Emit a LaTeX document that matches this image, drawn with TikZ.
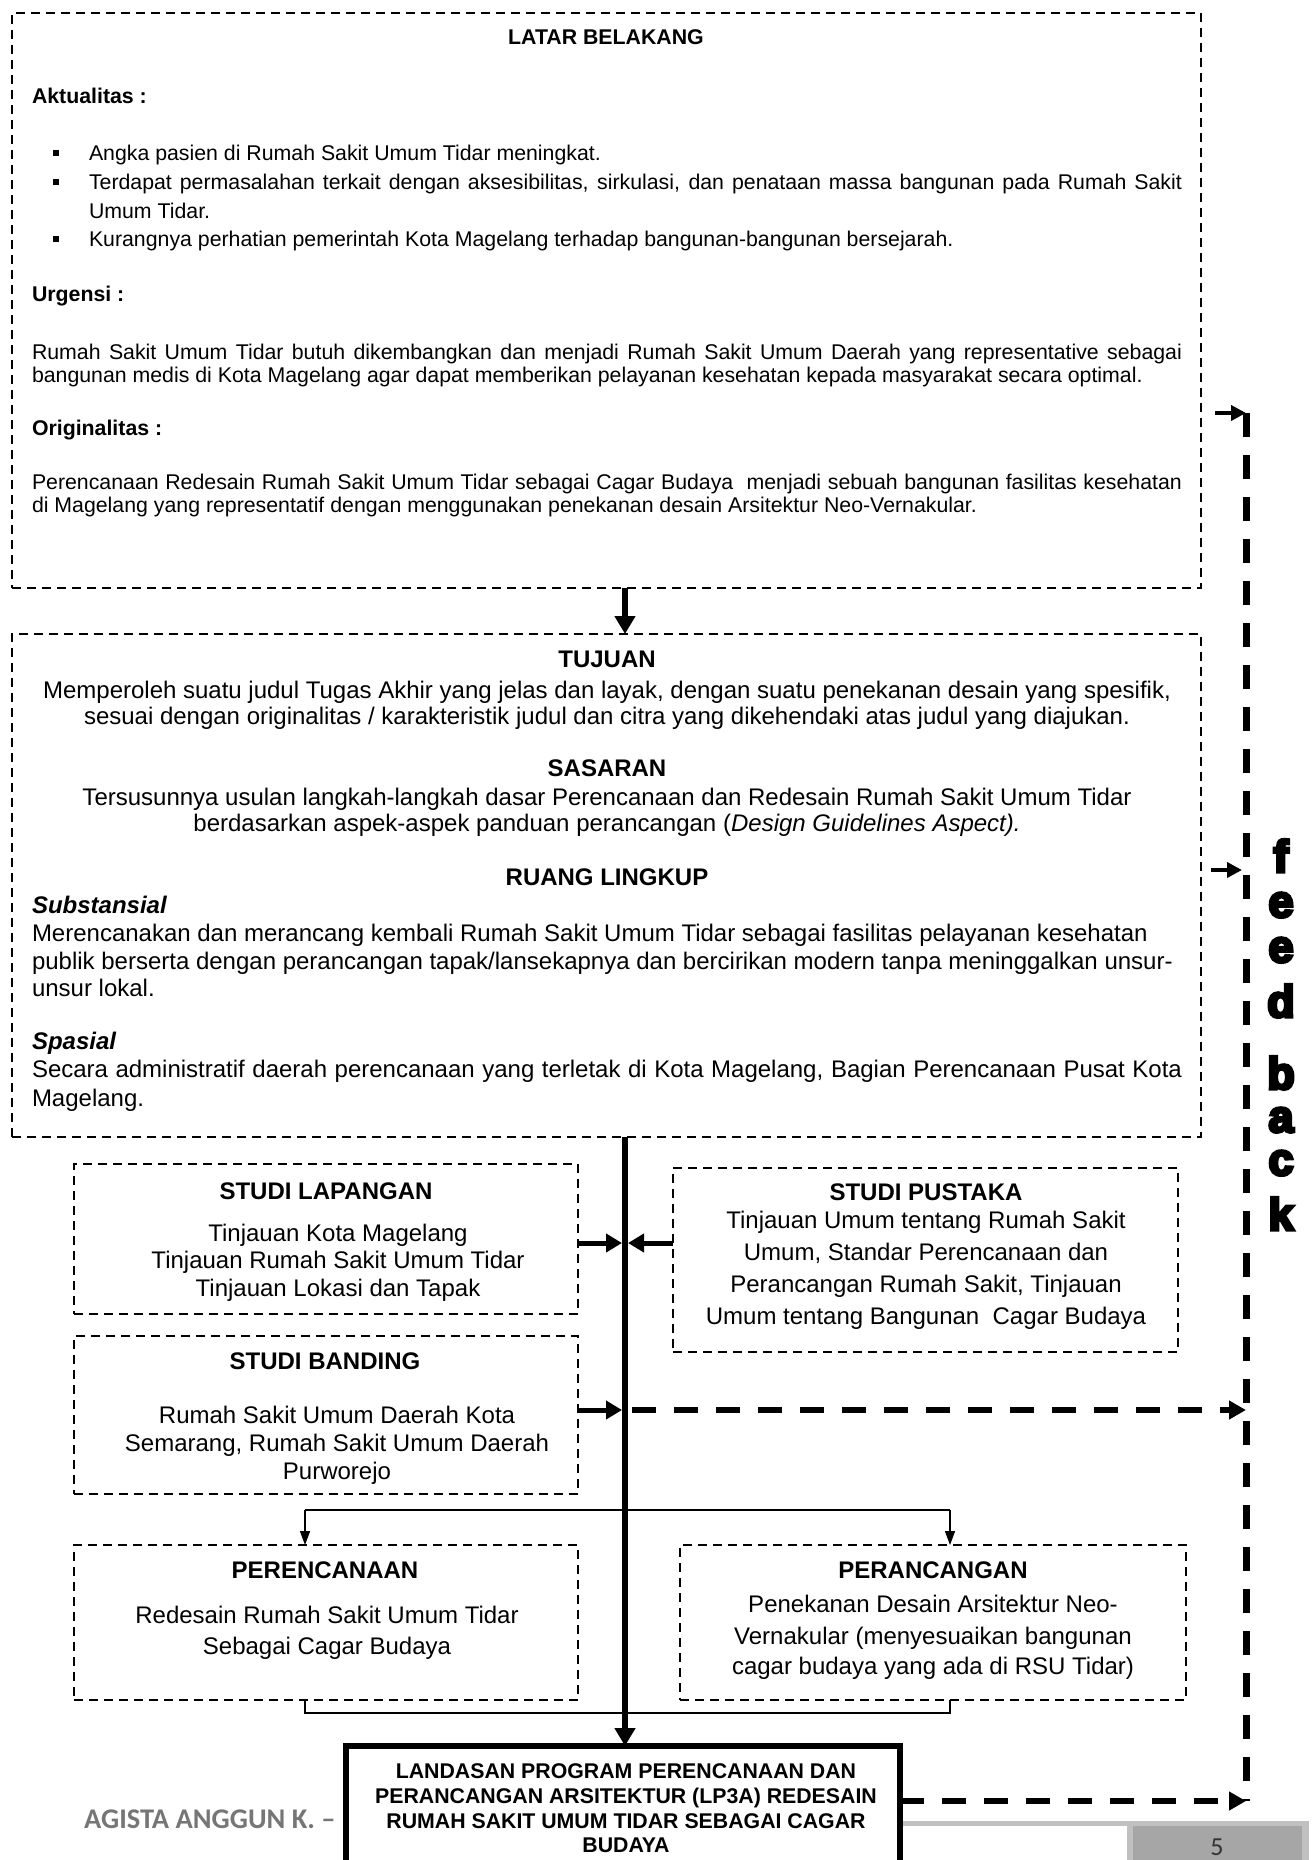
\documentclass[tikz,border=0pt]{standalone}
\usepackage{fontspec}
\setmainfont{Liberation Sans}
\newfontfamily\footfont{Carlito}[BoldFont={Carlito Bold}]
\newfontfamily\heavyfont{Liberation Sans Bold}[FakeBold=7]
\usetikzlibrary{arrows.meta}
\definecolor{footgray}{RGB}{118,118,118}
\definecolor{barlight}{RGB}{192,192,192}
\definecolor{bardark}{RGB}{166,166,166}
\begin{document}
\begin{tikzpicture}[x=1pt,y=-1pt,
  dbox/.style={draw, line width=2pt, dash pattern=on 9pt off 6pt, inner sep=0pt, outer sep=0pt},
  ts/.style={inner sep=0pt, outer sep=0pt, font=\fontsize{21.3}{23}\selectfont},
  tb/.style={inner sep=0pt, outer sep=0pt, font=\fontsize{21.3}{23}\selectfont\bfseries},
  ls/.style={inner sep=0pt, outer sep=0pt, font=\fontsize{24}{26}\selectfont},
  lb/.style={inner sep=0pt, outer sep=0pt, font=\fontsize{24}{26}\selectfont\bfseries},
  fbl/.style={inner sep=0pt, outer sep=0pt, font=\fontsize{45}{45}\heavyfont},
  thickarr/.style={line width=5pt, -{Triangle[length=16pt,width=18pt]}},
  mainarr/.style={line width=6pt, -{Triangle[length=18pt,width=20pt]}},
  fbln/.style={line width=7pt, dash pattern=on 24pt off 18pt},
  dasharr/.style={line width=6pt, dash pattern=on 24pt off 18pt, -{Triangle[length=17pt,width=18pt]}},
  smallarr/.style={line width=4pt, -{Triangle[length=15pt,width=15pt]}},
  thinln/.style={line width=1.5pt},
  thinarr/.style={line width=1.5pt, -{Triangle[length=14pt,width=10pt]}}
]
\useasboundingbox (0,0) rectangle (1314,1860);

% ---------- boxes ----------
\node[dbox, minimum width=1189pt, minimum height=575pt] (latar) at (606.5,300.5) {};
\node[dbox, minimum width=1189pt, minimum height=503pt] (tujbox) at (606.5,885.5) {};
\node[dbox, minimum width=504pt, minimum height=150pt] (slap) at (326,1239) {};
\node[dbox, minimum width=505pt, minimum height=184pt] (spus) at (925.5,1260) {};
\node[dbox, minimum width=504pt, minimum height=158pt] (sband) at (326,1415) {};
\node[dbox, minimum width=504pt, minimum height=155pt] (perenc) at (326,1622.5) {};
\node[dbox, minimum width=506pt, minimum height=155pt] (perang) at (933,1622.5) {};

% ---------- LATAR BELAKANG ----------
\node[tb, anchor=base] (tlatar) at (606,45) {LATAR BELAKANG};
\node[tb, anchor=base west] (takt) at (32,103) {Aktualitas :};
\fill (53,150) rectangle (59,156);
\fill (53,179) rectangle (59,185);
\fill (53,236) rectangle (59,242);
\node[ts, anchor=base west] (b1) at (89,160) {Angka pasien di Rumah Sakit Umum Tidar meningkat.};
\node[ts, anchor=base west] (b2) at (89,189) {\makebox[1093pt][s]{Terdapat permasalahan terkait dengan aksesibilitas, sirkulasi, dan penataan massa bangunan pada Rumah Sakit}};
\node[ts, anchor=base west] (b2b) at (89,218) {Umum Tidar.};
\node[ts, anchor=base west] (b3) at (89,246) {Kurangnya perhatian pemerintah Kota Magelang terhadap bangunan-bangunan bersejarah.};
\node[tb, anchor=base west] (turg) at (32,301) {Urgensi :};
\node[ts, anchor=base west] (u1) at (32,359) {\makebox[1150pt][s]{Rumah Sakit Umum Tidar butuh dikembangkan dan menjadi Rumah Sakit Umum Daerah yang representative sebagai}};
\node[ts, anchor=base west] (u2) at (32,382) {bangunan medis di Kota Magelang agar dapat memberikan pelayanan kesehatan kepada masyarakat secara optimal.};
\node[tb, anchor=base west] (tori) at (32,435) {Originalitas :};
\node[ts, anchor=base west] (o1) at (32,489) {\makebox[1150pt][s]{Perencanaan Redesain Rumah Sakit Umum Tidar sebagai Cagar Budaya~ menjadi sebuah bangunan fasilitas kesehatan}};
\node[ts, anchor=base west] (o2) at (32,512) {di Magelang yang representatif dengan menggunakan penekanan desain Arsitektur Neo-Vernakular.};

% ---------- TUJUAN / SASARAN / RUANG LINGKUP ----------
\node[lb, anchor=base] (ttuj) at (607,667) {TUJUAN};
\node[ls, anchor=base] (j1) at (607,698) {Memperoleh suatu judul Tugas Akhir yang jelas dan layak, dengan suatu penekanan desain yang spesifik,};
\node[ls, anchor=base] (j2) at (607,724) {sesuai dengan originalitas / karakteristik judul dan citra yang dikehendaki atas judul yang diajukan.};
\node[lb, anchor=base] (tsas) at (607,776) {SASARAN};
\node[ls, anchor=base] (s1) at (607,805) {Tersusunnya usulan langkah-langkah dasar Perencanaan dan Redesain Rumah Sakit Umum Tidar};
\node[ls, anchor=base] (s2) at (607,831) {berdasarkan aspek-aspek panduan perancangan (\textit{Design Guidelines Aspect).}};
\node[lb, anchor=base] (truang) at (607,885) {RUANG LINGKUP};
\node[lb, anchor=base west] (tsub) at (32,913) {\itshape Substansial};
\node[ls, anchor=base west] (r1) at (32,941) {Merencanakan dan merancang kembali Rumah Sakit Umum Tidar sebagai fasilitas pelayanan kesehatan};
\node[ls, anchor=base west] (r2) at (32,969) {publik berserta dengan perancangan tapak/lansekapnya dan bercirikan modern tanpa meninggalkan unsur-};
\node[ls, anchor=base west] (r3) at (32,996) {unsur lokal.};
\node[lb, anchor=base west] (tspa) at (32,1049) {\itshape Spasial};
\node[ls, anchor=base west] (p1) at (32,1077) {\makebox[1150pt][s]{Secara administratif daerah perencanaan yang terletak di Kota Magelang, Bagian Perencanaan Pusat Kota}};
\node[ls, anchor=base west] (p2) at (32,1106) {Magelang.};

% ---------- STUDI LAPANGAN ----------
\node[lb, anchor=base] (tslap) at (326,1199) {STUDI LAPANGAN};
\node[ls, anchor=base] (sl1) at (338,1241) {Tinjauan Kota Magelang};
\node[ls, anchor=base] (sl2) at (338,1268) {Tinjauan Rumah Sakit Umum Tidar};
\node[ls, anchor=base] (sl3) at (338,1296) {Tinjauan Lokasi dan Tapak};

% ---------- STUDI PUSTAKA ----------
\node[lb, anchor=base] (tspus) at (926,1200) {STUDI PUSTAKA};
\node[ls, anchor=base] (sp1) at (926,1228) {Tinjauan Umum tentang Rumah Sakit};
\node[ls, anchor=base] (sp2) at (926,1260) {Umum, Standar Perencanaan dan};
\node[ls, anchor=base] (sp3) at (926,1292) {Perancangan Rumah Sakit, Tinjauan};
\node[ls, anchor=base] (sp4) at (926,1324) {Umum tentang Bangunan~ Cagar Budaya};

% ---------- STUDI BANDING ----------
\node[lb, anchor=base] (tsband) at (325,1369) {STUDI BANDING};
\node[ls, anchor=base] (sb1) at (337,1423) {Rumah Sakit Umum Daerah Kota};
\node[ls, anchor=base] (sb2) at (337,1451) {Semarang, Rumah Sakit Umum Daerah};
\node[ls, anchor=base] (sb3) at (337,1479) {Purworejo};

% ---------- PERENCANAAN ----------
\node[lb, anchor=base] (tperenc) at (325,1578) {PERENCANAAN};
\node[ls, anchor=base] (pc1) at (327,1623) {Redesain Rumah Sakit Umum Tidar};
\node[ls, anchor=base] (pc2) at (327,1654) {Sebagai Cagar Budaya};

% ---------- PERANCANGAN ----------
\node[lb, anchor=base] (tperang) at (933,1578) {PERANCANGAN};
\node[ls, anchor=base] (pg1) at (933,1612) {Penekanan Desain Arsitektur Neo-};
\node[ls, anchor=base] (pg2) at (933,1644) {Vernakular (menyesuaikan bangunan};
\node[ls, anchor=base] (pg3) at (933,1674) {cagar budaya yang ada di RSU Tidar)};

% ---------- footer ----------
\node[inner sep=0pt, anchor=base west, text=footgray, font=\fontsize{28.5}{28.5}\footfont\bfseries] (foot) at (84,1828) {AGISTA ANGGUN K. –};
\fill[barlight] (900,1821) rectangle (1309,1826);
\fill[barlight] (1127,1821) rectangle (1309,1860);
\fill[bardark] (1133,1826) rectangle (1302,1860);
\node[inner sep=0pt, anchor=base, text=black!80, font=\fontsize{26}{26}\footfont] (pnum) at (1217,1855) {5};

% ---------- LP3A ----------
\node[draw, fill=white, line width=6pt, inner sep=0pt, outer sep=0pt, minimum width=554pt, minimum height=134pt] (lp3a) at (623,1813) {};
\node[tb, anchor=base] (lp1) at (626,1778) {LANDASAN PROGRAM PERENCANAAN DAN};
\node[tb, anchor=base] (lp2) at (626,1803) {PERANCANGAN ARSITEKTUR (LP3A) REDESAIN};
\node[tb, anchor=base] (lp3) at (626,1828) {RUMAH SAKIT UMUM TIDAR SEBAGAI CAGAR};
\node[tb, anchor=base] (lp4) at (626,1852) {BUDAYA};

% ---------- connectors ----------
\coordinate (mx) at (625,0);
\draw[mainarr] (latar.south -| mx) -- (tujbox.north -| mx);
\draw[mainarr] (tujbox.south -| mx) -- (lp3a.north -| mx);
\coordinate (jA) at (622,1243);
\coordinate (jB) at (628,1243);
\draw[thickarr] (slap.east |- jA) -- (jA);
\draw[thickarr] (spus.west |- jB) -- (jB);
\coordinate (jC) at (622,1410);
\draw[thickarr] (sband.east |- jC) -- (jC);
\coordinate (jD) at (632,1410);
\coordinate (fbtop) at (1246,413);
\coordinate (fbbot) at (1246,1801);
\draw[fbln] (fbtop) -- (fbbot);
\draw[dasharr] (jD) -- (jD -| fbtop);
\draw[dasharr] (lp3a.east |- fbbot) -- (fbbot);
\coordinate (fa1) at (1215,413);
\draw[smallarr] (fa1) -- (fbtop);
\coordinate (fa2) at (1211,870);
\coordinate (fa2e) at (1242,870);
\draw[smallarr] (fa2) -- (fa2e);

\coordinate (bl) at (305,1510);
\coordinate (brr) at (950,1510);
\draw[thinln] (bl) -- (brr);
\draw[thinarr] (bl) -- (bl |- perenc.north);
\draw[thinarr] (brr) -- (brr |- perang.north);
\coordinate (cl) at (305,1713);
\coordinate (cr) at (950,1713);
\draw[thinln] (cl |- perenc.south) -- (cl) -- (cr) -- (cr |- perang.south);

% ---------- feedback letters ----------
\node[fbl, anchor=base] (f1) at (1281,872) {f};
\node[fbl, anchor=base] (f2) at (1281,917) {e};
\node[fbl, anchor=base] (f3) at (1281,962) {e};
\node[fbl, anchor=base] (f4) at (1281,1017) {d};
\node[fbl, anchor=base] (f5) at (1281,1089) {b};
\node[fbl, anchor=base] (f6) at (1281,1132) {a};
\node[fbl, anchor=base] (f7) at (1281,1175) {c};
\node[fbl, anchor=base] (f8) at (1281,1230) {k};
\end{tikzpicture}
\end{document}
